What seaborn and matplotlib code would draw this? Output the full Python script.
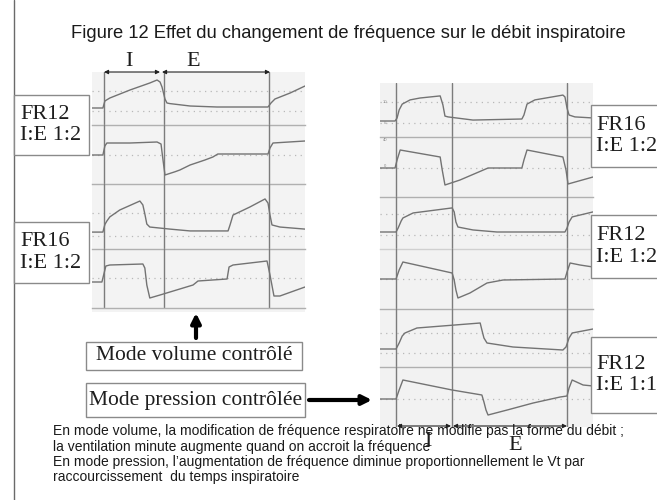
import matplotlib
matplotlib.use('Agg')
import matplotlib.pyplot as plt
import seaborn as sns
from matplotlib.patches import Rectangle, FancyArrowPatch

# Courbes : temps (s) et valeur (pression cmH2O / débit L/min)
# Panneau gauche : mode volume contrôlé
t_vc12_p = [-0.36, -0.03, 0.03, 0.18, 0.79, 1.39, 1.61, 1.70, 1.76, 1.85, 1.91, 2.00, 2.61, 3.42, 4.97, 5.06, 5.18, 5.64, 6.09]
v_vc12_p = [1.5, 1.5, 5.0, 6.5, 10.5, 14.0, 15.5, 14.5, 12.0, 6.0, 4.0, 3.7, 2.5, 2.0, 2.0, 4.0, 6.0, 9.0, 12.5]
t_vc12_d = [-0.36, -0.03, 0.03, 0.09, 0.79, 1.61, 1.73, 1.79, 1.85, 2.15, 2.30, 2.61, 3.06, 3.30, 3.45, 4.12, 4.97, 5.03, 5.12, 6.09]
v_vc12_d = [0, 0, 22.5, 30, 30, 32.5, 27.5, -12.5, -50, -42, -37.5, -25, -12.5, -5, 2.5, 2.5, 2.5, 17.5, 30, 35]
t_vc16_p = [-0.36, -0.03, 0.03, 0.09, 0.18, 0.48, 1.09, 1.18, 1.24, 1.30, 1.39, 2.00, 2.61, 3.76, 3.82, 3.91, 4.42, 4.88, 4.97, 5.03, 5.09, 5.33, 6.09]
v_vc16_p = [1.7, 1.7, 5.0, 6.5, 8.3, 11.3, 15.2, 13.5, 9.6, 5.2, 3.9, 3.0, 2.2, 2.2, 4.8, 9.1, 12.6, 16.1, 14.3, 9.1, 4.8, 3.9, 3.0]
t_vc16_d = [-0.36, -0.06, 0.0, 0.06, 0.18, 1.18, 1.24, 1.30, 1.39, 1.70, 2.70, 2.85, 3.73, 3.79, 3.91, 4.94, 5.03, 5.15, 5.33, 6.09]
v_vc16_d = [0, 0, 20, 40, 42.5, 45, 35, -7.5, -40, -32.5, -7.5, 2.5, 7.5, 37.5, 42.5, 52.5, 17.5, -35, -35, -12.5]

# Panneau droit : mode pression contrôlée
t_pc16_p = [-0.47, -0.03, 0.03, 0.09, 0.18, 0.41, 0.70, 1.29, 1.37, 1.43, 1.52, 2.25, 3.68, 3.74, 3.83, 4.06, 4.88, 4.94, 5.00, 5.06, 5.23, 5.76]
v_pc16_p = [0.95, 0.95, 2.4, 6.2, 9.0, 11.0, 11.9, 12.9, 8.6, 3.3, 2.9, 1.4, 1.9, 3.8, 9.0, 11.0, 13.3, 12.4, 7.1, 3.8, 2.9, 2.4]
t_pc16_d = [-0.47, -0.03, 0.03, 0.12, 1.29, 1.35, 1.43, 1.87, 2.69, 3.68, 3.74, 3.83, 4.88, 4.97, 5.03, 5.76]
v_pc16_d = [0, 0, 20, 45, 27.5, -5, -42.5, -30, 0, 0, 20, 45, 27.5, -5, -40, -22.5]
t_pc12_p = [-0.47, 0.0, 0.06, 0.15, 0.20, 0.50, 1.64, 1.70, 1.75, 1.81, 2.25, 2.95, 4.94, 5.0, 5.06, 5.15, 5.76]
v_pc12_p = [1.43, 1.43, 3.3, 6.7, 8.1, 10.5, 12.9, 11.0, 6.2, 3.8, 2.4, 1.43, 1.43, 3.3, 6.2, 8.6, 11.0]
t_pc12_d = [-0.47, 0.0, 0.09, 0.20, 1.64, 1.70, 1.75, 1.81, 2.16, 2.66, 3.13, 4.94, 5.0, 5.09, 5.38, 5.76]
v_pc12_d = [0, 0, 22.5, 42.5, 15, -2.5, -27.5, -47.5, -35, -10, -2.5, 0, 17.5, 40, 35, 30]
t_pc11_p = [-0.47, 0.0, 0.09, 0.18, 0.26, 0.61, 2.46, 2.51, 2.57, 2.66, 3.42, 4.88, 4.97, 5.06, 5.15, 5.76]
v_pc11_p = [2, 2, 5, 8.5, 10, 12.5, 15, 11.5, 7.5, 5, 3, 1.5, 3, 7.5, 10, 12]
t_pc11_d = [-0.47, 0.0, 0.09, 0.20, 1.64, 2.51, 2.57, 2.63, 2.69, 3.25, 4.01, 4.80, 5.0, 5.06, 5.15, 5.47, 5.76]
v_pc11_d = [0, 0, 22.5, 47.5, 22.5, 10, -7.5, -27.5, -40, -27.5, -10, 5, 7.5, 27.5, 47.5, 35, 32.5]

# repères temporels (début insp., fin insp., cycle suivant)
marks_left = [0.0, 1.82, 5.0]
marks_right = [0.0, 1.64, 5.0]

labels_left = ['FR12\nI:E 1:2', 'FR16\nI:E 1:2']
labels_right = ['FR16\nI:E 1:2', 'FR12\nI:E 1:2', 'FR12\nI:E 1:1']
title = 'Figure 12 Effet du changement de fréquence sur le débit inspiratoire'
notes = ['En mode volume, la modification de fréquence respiratoire ne modifie pas la forme du débit ;',
         'la ventilation minute augmente quand on accroit la fréquence',
         'En mode pression, l\u2019augmentation de fréquence diminue proportionnellement le Vt par',
         'raccourcissement  du temps inspiratoire']

sns.set_theme(style='white')
plt.rcParams['font.family'] = ['Liberation Sans', 'DejaVu Sans']
SERIF = 'Liberation Serif'

W, H = 657, 500
fig = plt.figure(figsize=(W / 100, H / 100), dpi=100)
fig.patch.set_facecolor('white')

bg = fig.add_axes([0, 0, 1, 1])
bg.set_xlim(0, W)
bg.set_ylim(H, 0)
bg.axis('off')
bg.add_patch(Rectangle((92, 72), 213, 240, fc='#f3f3f3', ec='none'))
bg.add_patch(Rectangle((380, 83), 213, 344, fc='#f2f2f2', ec='none'))

TRACE = '#737373'


def strip(x0, x1, y0, y1, xlim, ylim, grid, t, v, marks, sep='#b0b0b0'):
    ax = fig.add_axes([x0 / W, 1 - y1 / H, (x1 - x0) / W, (y1 - y0) / H])
    ax.set_facecolor('none')
    ax.set_xlim(*xlim)
    ax.set_ylim(*ylim)
    for g in grid:
        ax.axhline(g, color='#b8b8b8', lw=0.9, ls=(0, (1, 3.5)))
    for m in marks:
        ax.axvline(m, color='#7c7c7c', lw=1.0)
    sns.lineplot(x=t, y=v, ax=ax, color=TRACE, lw=1.0, estimator=None, sort=False)
    ax.set_xticks([])
    ax.set_yticks([])
    ax.set_xlabel('')
    ax.set_ylabel('')
    for s in ['top', 'left', 'right']:
        ax.spines[s].set_visible(False)
    if sep:
        ax.spines['bottom'].set_visible(True)
        ax.spines['bottom'].set_color(sep)
        ax.spines['bottom'].set_linewidth(1.0)
    else:
        ax.spines['bottom'].set_visible(False)
    return ax


xl = (-0.36, 6.09)
strip(92, 305, 72, 125, xl, (-7, 19.5), [0, 10], t_vc12_p, v_vc12_p, marks_left)
strip(92, 305, 125, 184, xl, (-72.5, 75), [0], t_vc12_d, v_vc12_d, marks_left)
strip(92, 305, 184, 249, xl, (-5.65, 22.6), [0, 10], t_vc16_p, v_vc16_p, marks_left)
strip(92, 305, 249, 308, xl, (-65, 82.5), [10], t_vc16_d, v_vc16_d, marks_left)

xr = (-0.47, 5.76)
r1 = strip(380, 593, 83, 137, xr, (-6.67, 19.05), [0, 10], t_pc16_p, v_pc16_p, marks_right)
r2 = strip(380, 593, 137, 197, xr, (-72.5, 77.5), [0], t_pc16_d, v_pc16_d, marks_right)
strip(380, 593, 197, 249, xr, (-6.67, 18.1), [0, 10], t_pc12_p, v_pc12_p, marks_right, sep='#d0d0d0')
strip(380, 593, 249, 309, xr, (-75, 75), [0], t_pc12_d, v_pc12_d, marks_right)
strip(380, 593, 309, 367, xr, (-7, 22), [0, 10], t_pc11_p, v_pc11_p, marks_right)
strip(380, 593, 367, 427, xr, (-70, 80), [0], t_pc11_d, v_pc11_d, marks_right, sep=None)

# petites graduations illisibles de l'écran
for ax, vals, labs in [(r1, [10, 0], ['10', '0']), (r2, [70, 5], ['40', '0'])]:
    for val, lab in zip(vals, labs):
        ax.text(-0.33, val, lab, fontsize=3, color='#888888', ha='center', va='center')

# calque d'annotations
ov = fig.add_axes([0, 0, 1, 1])
ov.set_xlim(0, W)
ov.set_ylim(H, 0)
ov.axis('off')
ov.patch.set_alpha(0)

ov.axvline(14, color='#6a6a6a', lw=1.0)
ov.text(348, 33, title, ha='center', va='center', fontsize=13.2, color='#1a1a1a')


def box(x0, y0, x1, y1, text, size, ha='center', tx=None):
    ov.add_patch(Rectangle((x0, y0), x1 - x0, y1 - y0, fc='white', ec='#8a8a8a', lw=1.0, zorder=5))
    xt = (x0 + x1) / 2 if tx is None else tx
    ov.text(xt, (y0 + y1) / 2, text, ha=ha, va='center', fontsize=size, family=SERIF,
            color='#1e1e1e', linespacing=1.15, zorder=6)


box(14, 95, 89, 155, labels_left[0], 16, ha='left', tx=20)
box(14, 222, 89, 283, labels_left[1], 16, ha='left', tx=20)
box(591, 105, 680, 167, labels_right[0], 16, ha='left', tx=596)
box(591, 215, 680, 278, labels_right[1], 16, ha='left', tx=596)
box(591, 337, 680, 413, labels_right[2], 16, ha='left', tx=596)
box(86, 342, 302, 370, 'Mode volume contrôlé', 15.5)
box(86, 383, 305, 417, 'Mode pression contrôlée', 15.5)


def dim_arrow(xa, xb, y):
    ov.add_patch(FancyArrowPatch((xa, y), (xb, y), arrowstyle='<|-|>', mutation_scale=6,
                                 color='#222222', lw=0.8, shrinkA=0, shrinkB=0))


dim_arrow(104, 160, 72)
dim_arrow(162, 270, 72)
ov.text(129, 61, 'I', ha='center', va='center', fontsize=16, family=SERIF, color='#1e1e1e')
ov.text(193, 61, 'E', ha='center', va='center', fontsize=16, family=SERIF, color='#1e1e1e')

dim_arrow(397, 451, 426)
dim_arrow(453, 567, 426)
ov.text(428, 442, 'I', ha='center', va='center', fontsize=16, family=SERIF, color='#1e1e1e')
ov.text(515, 445, 'E', ha='center', va='center', fontsize=16, family=SERIF, color='#1e1e1e')

ov.add_patch(FancyArrowPatch((196, 338), (196, 313), arrowstyle='-|>', mutation_scale=14,
                             color='black', lw=3, shrinkA=0, shrinkB=0))
ov.add_patch(FancyArrowPatch((309, 400), (372, 400), arrowstyle='-|>', mutation_scale=14,
                             color='black', lw=3, shrinkA=0, shrinkB=0))

for i, line in enumerate(notes):
    ov.text(53, 431 + 15.5 * i, line, ha='left', va='center', fontsize=10, color='#1a1a1a', zorder=4)

fig.savefig('out.png', dpi=100)
